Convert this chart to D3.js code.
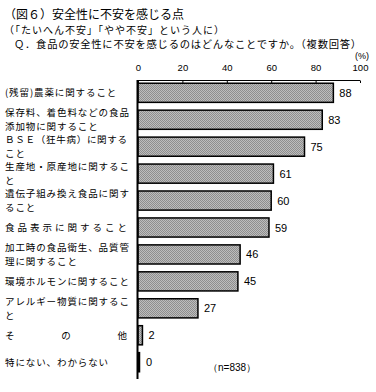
<!DOCTYPE html>
<html>
<head>
<meta charset="utf-8">
<script src="https://cdn.jsdelivr.net/npm/d3@7"></script>
<style>
  body { margin: 0; background: #fff; }
  text { font-family: "Noto Sans CJK JP", sans-serif; fill: #000; }
  .num { font-family: "Liberation Sans", Arial, sans-serif; }
</style>
</head>
<body>
<svg id="chart" width="376" height="392"></svg>
<script>
// categories (label lines), values in percent
var categories = [
  ['(残留)農薬に関すること'],
  ['保存料、着色料などの食品', '添加物に関すること'],
  ['ＢＳＥ（狂牛病）に関する', 'こと'],
  ['生産地・原産地に関するこ', 'と'],
  ['遺伝子組み換え食品に関す', 'ること'],
  ['食品表示に関すること'],
  ['加工時の食品衛生、品質管', '理に関すること'],
  ['環境ホルモンに関すること'],
  ['アレルギー物質に関するこ', 'と'],
  ['そ　　の　　他'],
  ['特にない、わからない']
];
var values = [88, 83, 75, 61, 60, 59, 46, 45, 27, 2, 0];
var ticks = [0, 20, 40, 60, 80, 100];
// lines stretched to full label width in the original
var justified = ['ＢＳＥ（狂牛病）に関する', '食品表示に関すること', 'そ　　の　　他'];

var svg = d3.select('#chart');

// dithered gray fill
var defs = svg.append('defs');
var pat = defs.append('pattern')
  .attr('id', 'dither')
  .attr('width', 2).attr('height', 2)
  .attr('patternUnits', 'userSpaceOnUse');
pat.append('rect').attr('width', 2).attr('height', 2).attr('fill', '#bdbdbd');
pat.append('rect').attr('width', 1).attr('height', 1).attr('fill', '#8e8e8e');
pat.append('rect').attr('x', 1).attr('y', 1).attr('width', 1).attr('height', 1).attr('fill', '#8e8e8e');

// titles
svg.append('text').attr('x', 4).attr('y', 18.5).style('font-size', '12px')
  .text('（図６）安全性に不安を感じる点');
svg.append('text').attr('x', 4).attr('y', 34).style('font-size', '10px')
  .style('letter-spacing', '1px')
  .text('（「たいへん不安」「やや不安」という人に）');
svg.append('text').attr('x', 14).attr('y', 47.5).style('font-size', '10.3px')
  .style('letter-spacing', '0.75px')
  .text('Ｑ．食品の安全性に不安を感じるのはどんなことですか。（複数回答）');

var x = d3.scaleLinear().domain([0, 100]).range([138, 360]);
var y = d3.scaleBand().domain(d3.range(values.length)).range([80, 375]).paddingInner(0.29).paddingOuter(0.12);

// top axis
var axis = svg.append('g').attr('transform', 'translate(0,80)')
  .call(d3.axisTop(x).tickValues(ticks).tickSize(-3).tickPadding(9).tickSizeOuter(0));
axis.select('.domain').attr('stroke', '#000').attr('d', 'M' + x(0) + ',0.5H' + x(100));
axis.selectAll('.tick line').attr('stroke', '#000').attr('y1', 0.5);
axis.selectAll('.tick text').attr('class', 'num').style('font-size', '9.5px').attr('dy', '0');
svg.append('text').attr('class', 'num').attr('x', x(100) - 5).attr('y', 59.3)
  .style('font-size', '9px').text('(%)');

// bars
svg.selectAll('rect.bar').data(values).enter().append('rect')
  .attr('class', 'bar')
  .attr('x', x(0))
  .attr('y', function (d, i) { return y(i); })
  .attr('width', function (d) { return Math.max(x(d) - x(0), 1.5); })
  .attr('height', y.bandwidth())
  .attr('fill', 'url(#dither)')
  .attr('stroke', '#000')
  .attr('stroke-width', 1.5);

// value labels
svg.selectAll('text.val').data(values).enter().append('text')
  .attr('class', 'num')
  .attr('x', function (d) { return Math.max(x(d), x(0) + 2) + 6; })
  .attr('y', function (d, i) { return y(i) + y.bandwidth() / 2 + 4; })
  .style('font-size', '11px')
  .text(function (d) { return d; });

// category labels
var lineGap = 13.8;
var lab = svg.selectAll('g.lab').data(categories).enter().append('g').attr('class', 'lab');
lab.each(function (lines, i) {
  var cy = y(i) + y.bandwidth() / 2;
  var top = cy - (lines.length - 1) * lineGap / 2 + 3.5;
  lines.forEach(function (ln, j) {
    var t = d3.select(this).append('text')
      .attr('x', 5)
      .attr('y', top + j * lineGap)
      .style('font-size', '9.5px')
      .style('letter-spacing', '0.9px')
      .text(ln);
    if (justified.indexOf(ln) >= 0) {
      t.attr('textLength', 123).attr('lengthAdjust', 'spacing');
    }
  }, this);
});

// vertical axis line
svg.append('line')
  .attr('x1', x(0) - 0.5).attr('x2', x(0) - 0.5)
  .attr('y1', 80).attr('y2', 379)
  .attr('stroke', '#000').attr('stroke-width', 2);

svg.append('text').attr('class', 'num').attr('x', 208).attr('y', 371)
  .style('font-size', '10px').text('（n=838）');
</script>
</body>
</html>
